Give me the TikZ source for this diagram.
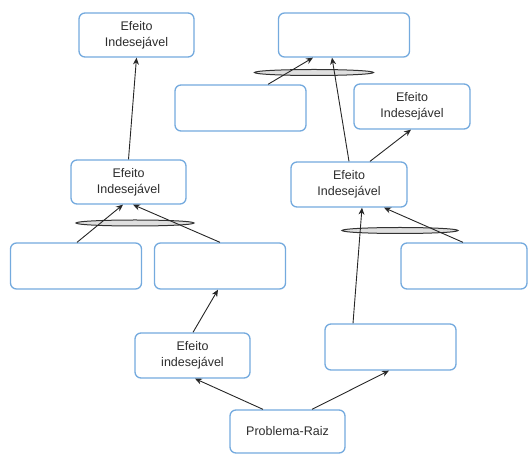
\documentclass[tikz,border=0pt]{standalone}
\usepackage{fontspec}
\newfontfamily\arialfont{Liberation Sans}
\usepackage{tikz}
\usetikzlibrary{shapes.geometric, arrows.meta}
\definecolor{boxblue}{RGB}{116,170,222}
\definecolor{txtgray}{RGB}{45,45,45}

\begin{document}
\begin{tikzpicture}[
    x=1pt, y=-1pt,
    efbox/.style={
        rectangle, draw=boxblue, line width=1.3pt, rounded corners=6pt,
        minimum width=115pt, minimum height=44pt, fill=white,
        text centered, align=center, text=txtgray,
        font=\arialfont\fontsize{12.5}{16}\selectfont
    },
    vzbox/.style={
        efbox, minimum width=131pt, minimum height=46pt
    },
    andlink/.style={
        ellipse, draw=black!80, line width=1pt, fill=gray!25,
        minimum width=118pt, minimum height=6pt, inner sep=0pt
    },
    arrow/.style={-{Stealth[length=7pt, width=6pt]}, line width=0.9pt, black!85},
]
\useasboundingbox (0,0) rectangle (528,454);

%% Linha de cima
\node[efbox] (efA) at (136.5,35) {Efeito\\Indesejável};
\node[vzbox, minimum height=44pt] (vz1) at (344,35) {};

%% Segunda linha
\node[vzbox] (vz2) at (240.5,108) {};
\node[efbox, minimum width=116pt, minimum height=45pt] (efB) at (412,106.5) {Efeito\\Indesejável};

%% Efeitos do meio
\node[efbox] (efC) at (128.5,182) {Efeito\\Indesejável};
\node[efbox, minimum width=116pt, minimum height=45pt] (efD) at (349,184.5) {Efeito\\Indesejável};

%% Caixas vazias
\node[vzbox] (vz3) at (76,266) {};
\node[vzbox] (vz4) at (220,266) {};
\node[vzbox, minimum width=126pt] (vz5) at (464,266) {};

%% Parte de baixo
\node[efbox, minimum height=45pt] (efE) at (192.5,355.5) {Efeito\\indesejável};
\node[vzbox] (vz6) at (390.5,347) {};
\node[efbox, minimum height=43pt] (raiz) at (287.5,431.5) {Problema-Raiz};

%% Elipses (E logico)
\node[andlink] (andC) at (135,223) {};
\node[andlink, minimum width=116pt] (andD) at (400,230.5) {};
\node[andlink, minimum width=119pt] (andV) at (314,72.5) {};

%% Setas
\draw[arrow] (efC.north) -- (efA.south);
\draw[arrow] ([xshift=1pt]vz3.north) -- ([xshift=-5.5pt]efC.south);
\draw[arrow] (vz4.north) -- ([xshift=4.5pt]efC.south);
\draw[arrow] ([xshift=0.5pt]efE.north) -- ([xshift=-2pt]vz4.south);
\draw[arrow] ([xshift=-24.5pt]raiz.north) -- ([xshift=2.5pt]efE.south);
\draw[arrow] ([xshift=24.5pt]raiz.north) -- ([xshift=-1.5pt]vz6.south);
\draw[arrow] ([xshift=-37.5pt]vz6.north) -- ([xshift=13pt]efD.south);
\draw[arrow] ([xshift=-1pt]vz5.north) -- ([xshift=35pt]efD.south);
\draw[arrow] (efD.north) -- ([xshift=-12pt]vz1.south);
\draw[arrow] ([xshift=27.5pt]vz2.north) -- ([xshift=-31pt]vz1.south);
\draw[arrow] ([xshift=21pt]efD.north) -- ([xshift=-1pt]efB.south);

\end{tikzpicture}
\end{document}
